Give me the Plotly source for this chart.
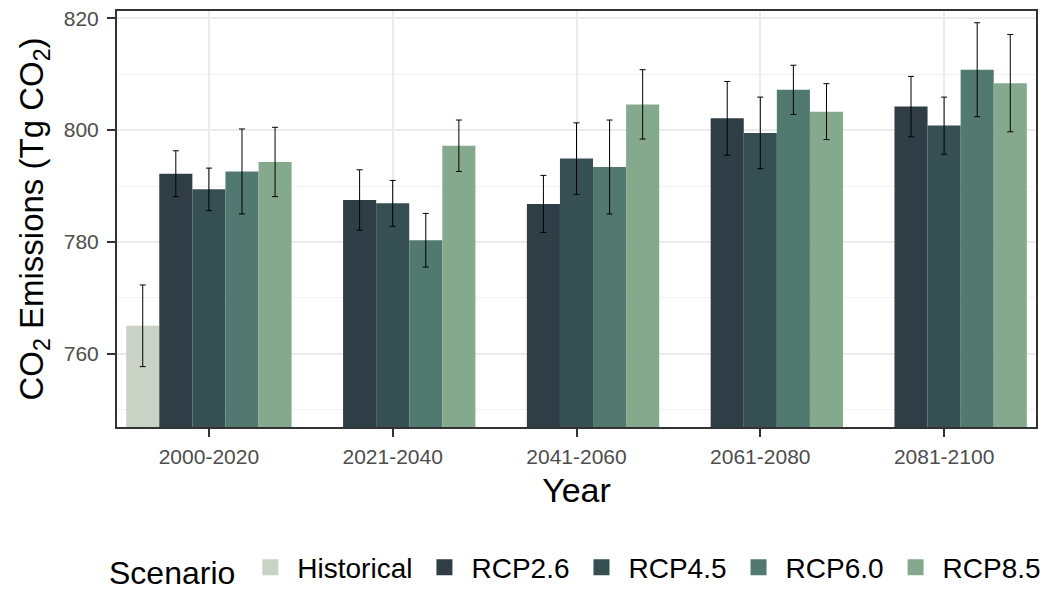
import plotly.graph_objects as go

periods = ["2000-2020", "2021-2040", "2041-2060", "2061-2080", "2081-2100"]
scenarios = ["Historical", "RCP2.6", "RCP4.5", "RCP6.0", "RCP8.5"]
colors = ["#CAD2C5", "#2F3E46", "#354F52", "#52796F", "#84A98C"]

# mean emissions per period (None = no bar)
historical = [765.0, None, None, None, None]
rcp26 = [792.2, 787.5, 786.8, 802.1, 804.2]
rcp45 = [789.4, 786.9, 794.9, 799.5, 800.8]
rcp60 = [792.6, 780.3, 793.4, 807.2, 810.8]
rcp85 = [794.3, 797.2, 804.6, 803.3, 808.4]

# error bar half widths
historical_err = [7.3, None, None, None, None]
rcp26_err = [4.1, 5.4, 5.1, 6.6, 5.4]
rcp45_err = [3.8, 4.1, 6.4, 6.4, 5.1]
rcp60_err = [7.6, 4.8, 8.4, 4.4, 8.4]
rcp85_err = [6.2, 4.6, 6.2, 5.0, 8.7]

values = [historical, rcp26, rcp45, rcp60, rcp85]
errors = [historical_err, rcp26_err, rcp45_err, rcp60_err, rcp85_err]

font = "Liberation Sans, Arial, sans-serif"

fig = go.Figure()
for name, col, y, e in zip(scenarios, colors, values, errors):
    fig.add_trace(go.Bar(
        name=name,
        x=periods,
        y=y,
        marker=dict(color=col, line=dict(width=0)),
        error_y=dict(type="data", array=e, color="black", thickness=1, width=3),
        showlegend=False,
    ))

# legend keys (bigger squares than the default bar swatch)
for name, col in zip(scenarios, colors):
    fig.add_trace(go.Scatter(
        name=name, x=[None], y=[None], mode="markers",
        marker=dict(symbol="square", size=22, color=col),
    ))

# page body keeps its default 8px margin, so the figure is a bit smaller
fig.update_layout(
    width=1048,
    height=586,
    barmode="group",
    bargap=0.1,
    bargroupgap=0,
    plot_bgcolor="white",
    paper_bgcolor="white",
    margin=dict(l=109, r=20, t=3, b=167, autoexpand=False),
    font=dict(family=font, color="black"),
    legend=dict(
        orientation="h",
        x=0.5, xanchor="center",
        y=-0.34, yanchor="middle",
        title=dict(text="Scenario", font=dict(size=32), side="left"),
        font=dict(size=28),
        itemwidth=44,
    ),
)

fig.update_xaxes(
    title=dict(text="Year", font=dict(size=34), standoff=11),
    tickfont=dict(size=21, color="#4D4D4D"),
    ticks="outside", ticklen=8, tickwidth=2, tickcolor="#333333",
    ticklabelstandoff=2,
    showgrid=True, gridcolor="#EBEBEB", gridwidth=2,
    showline=True, linecolor="#333333", linewidth=2, mirror=True,
    automargin=False,
)

fig.update_yaxes(
    title=dict(text="CO<sub>2</sub> Emissions (Tg CO<sub>2</sub>)", font=dict(size=33), standoff=10),
    range=[746.9, 821.3],
    dtick=20,
    tickfont=dict(size=21, color="#4D4D4D"),
    ticks="outside", ticklen=8, tickwidth=2, tickcolor="#333333",
    ticklabelstandoff=4,
    ticklabeloverflow="allow",
    showgrid=True, gridcolor="#EBEBEB", gridwidth=2,
    minor=dict(dtick=10, showgrid=True, gridcolor="#F2F2F2", gridwidth=1),
    showline=True, linecolor="#333333", linewidth=2, mirror=True,
    zeroline=False,
    automargin=False,
)

fig.write_html("out.html")
